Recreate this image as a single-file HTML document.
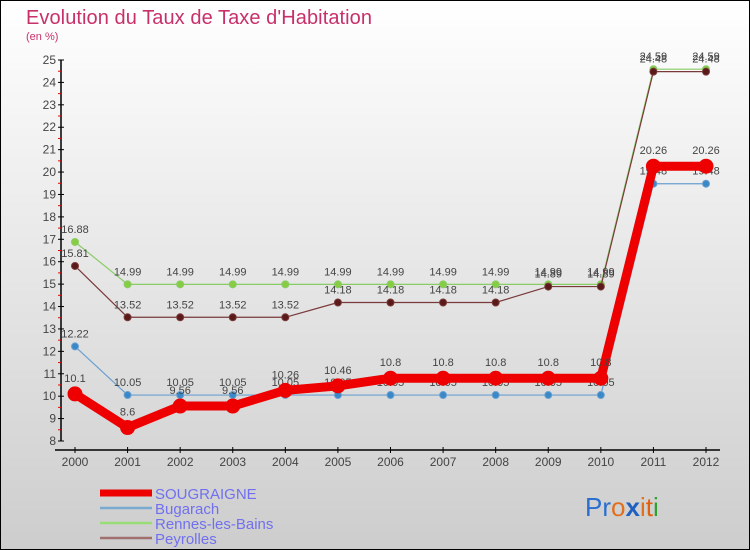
<!DOCTYPE html>
<html><head><meta charset="utf-8"><style>
body{margin:0;}
#wrap{position:relative;width:750px;height:550px;overflow:hidden;}
svg{display:block;font-family:"Liberation Sans",sans-serif;}
</style></head><body>
<div id="wrap">
<svg id="c" width="750" height="550">
<defs><linearGradient id="bg" x1="0" y1="0" x2="0" y2="1"><stop offset="0" stop-color="#ffffff"/><stop offset="1" stop-color="#cdcdcd"/></linearGradient></defs>
<rect x="0" y="0" width="750" height="550" fill="url(#bg)" stroke="#000" stroke-width="2"/>
<text x="26" y="24" font-size="20" fill="#c8306a" textLength="346">Evolution du Taux de Taxe d'Habitation</text>
<text x="26" y="40" font-size="11" fill="#c8306a">(en %)</text>
<g id="axes"></g>
<g id="series"></g>
<g id="legend"></g>
<text x="585" y="516" font-size="26"><tspan fill="#2a6fd0">Pr</tspan><tspan fill="#e07020">o</tspan><tspan fill="#2060c0" font-weight="bold">x</tspan><tspan fill="#e07020">i</tspan><tspan fill="#e06010">t</tspan><tspan fill="#30a030">i</tspan></text>
</svg></div>
<script>
const years=[2000,2001,2002,2003,2004,2005,2006,2007,2008,2009,2010,2011,2012];
const yTicks=[8,9,10,11,12,13,14,15,16,17,18,19,20,21,22,23,24,25];
const sougraigne=[10.1,8.6,9.56,9.56,10.26,10.46,10.8,10.8,10.8,10.8,10.8,20.26,20.26];
const bugarach=[12.22,10.05,10.05,10.05,10.05,10.05,10.05,10.05,10.05,10.05,10.05,19.48,19.48];
const rennes=[16.88,14.99,14.99,14.99,14.99,14.99,14.99,14.99,14.99,14.99,14.99,24.59,24.59];
const peyrolles=[15.81,13.52,13.52,13.52,13.52,14.18,14.18,14.18,14.18,14.89,14.89,24.48,24.48];
const seriesNames=["SOUGRAIGNE","Bugarach","Rennes-les-Bains","Peyrolles"];

const NS="http://www.w3.org/2000/svg";
function X(i){return 75+i*(706-75)/(years.length-1);}
function Y(v){return 441-(v-8)*(441-60)/17;}
function mk(tag,attrs,parent){const e=document.createElementNS(NS,tag);for(const k in attrs)e.setAttribute(k,attrs[k]);parent.appendChild(e);return e;}
const axes=document.getElementById('axes');
let yl=mk('line',{x1:61,y1:Y(25),x2:61,y2:441,stroke:'#000','stroke-width':1.5},axes);


let xl=mk('line',{x1:55,y1:450,x2:720,y2:450,stroke:'#000','stroke-width':1.5},axes);


yTicks.forEach(v=>{
  mk('line',{x1:58,y1:Y(v),x2:64,y2:Y(v),stroke:'#000'},axes);
  if(v<25)mk('line',{x1:58,y1:Y(v+0.5),x2:61,y2:Y(v+0.5),stroke:'#e00'},axes);
  const t=mk('text',{x:56,y:Y(v)+4,'text-anchor':'end','font-size':12,fill:'#444'},axes);
  t.textContent=v;
  
  
});
years.forEach((yr,i)=>{
  mk('line',{x1:X(i),y1:447,x2:X(i),y2:453,stroke:'#000'},axes);
  const t=mk('text',{x:X(i),y:466,'text-anchor':'middle','font-size':12,fill:'#444'},axes);
  t.textContent=yr;
  
  
});
const sg=document.getElementById('series');
function draw(data,color,w,r,dotFill,name,labelDy){
  const g=mk('g',{},sg);
  
  
  const pl=mk('polyline',{points:data.map((v,i)=>X(i)+','+Y(v)).join(' '),fill:'none',stroke:color,'stroke-width':w,'stroke-linejoin':'round'},g);
  
  
  data.forEach((v,i)=>{
    const c=mk('circle',{cx:X(i),cy:Y(v),r:r,fill:dotFill,stroke:color,'stroke-width':1},g);
    
    
    const t=mk('text',{x:X(i),y:Y(v)+labelDy,'text-anchor':'middle','font-size':11,fill:'#444'},g);
    t.textContent=v;
    
    
  });
}
draw(rennes,'#88cc66',1.2,3.5,'#88cc44','rennes-les-bains',-9);
draw(peyrolles,'#7a3a3a',1.2,3.5,'#5a1a1a','peyrolles',-9);
draw(bugarach,'#6aa0d0',1.2,3.5,'#3a88c8','bugarach',-9);
draw(sougraigne,'#ee0000',9,7,'#ee0000','sougraigne',-12);
const lg=document.getElementById('legend');
const lcol=['#ee0000','#7aaad0','#99dd77','#a07070'];const lw=[7,2.5,2.5,2.5];
seriesNames.forEach((n,i)=>{
  const y=493+i*15;
  const l=mk('line',{x1:100,y1:y,x2:152,y2:y,stroke:lcol[i],'stroke-width':lw[i]},lg);
  
  
  const t=mk('text',{x:155,y:y+6,'font-size':15,fill:'#7070f0'},lg);
  t.textContent=n;
  
  
});
</script>
</body></html>
